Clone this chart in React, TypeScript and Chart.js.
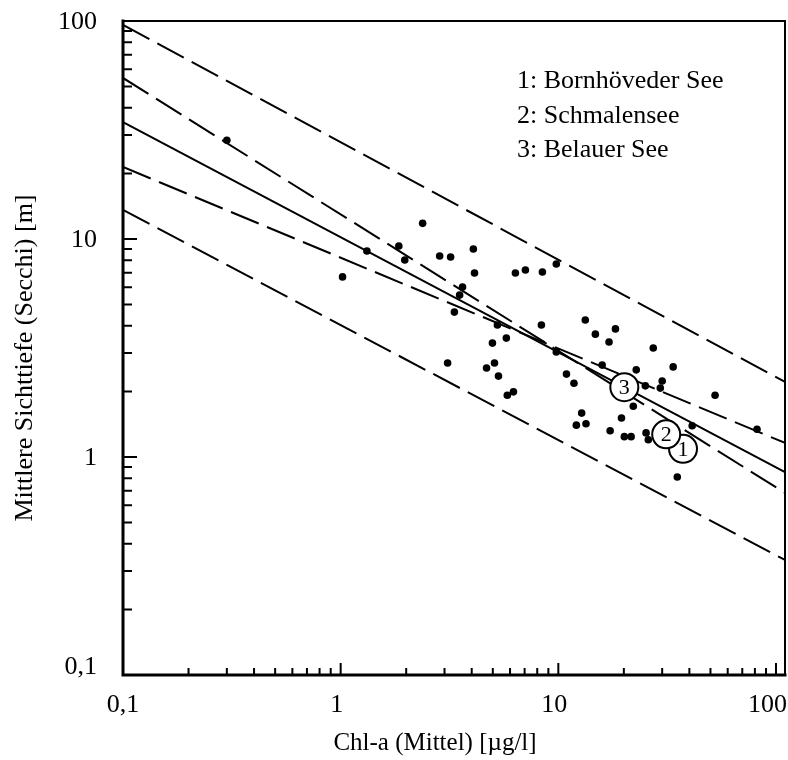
import React, { useEffect, useRef } from 'react';
import { Chart, registerables } from 'chart.js';

Chart.register(...registerables);

const FONT = "'Liberation Serif', 'Times New Roman', serif";

// Measured lakes: Chl-a (Mittel) [µg/l] vs. mittlere Sichttiefe [m]
const chlA = [0.30, 1.32, 1.02, 2.38, 1.85, 1.97, 2.85, 3.20, 4.07, 4.12, 3.63, 3.52, 3.33, 6.35, 7.06, 8.45, 9.79, 5.25, 4.98, 5.77, 8.36, 9.79, 13.3, 14.8, 18.3, 17.1, 27.3, 15.9, 22.8, 33.7, 3.10, 4.68, 5.09, 5.31, 5.83, 6.22, 10.9, 11.8, 25.1, 30.0, 29.4, 52.5, 22.1, 12.8, 12.1, 13.4, 19.5, 17.3, 20.1, 21.6, 25.3, 25.9, 41.2, 81.8, 35.2];
const secchi = [28.4, 8.81, 6.70, 11.8, 9.29, 8.01, 8.36, 8.27, 9.00, 6.98, 6.02, 5.53, 4.62, 6.98, 7.21, 7.06, 7.68, 4.03, 3.33, 3.51, 4.03, 3.03, 4.25, 3.66, 3.87, 3.37, 3.16, 2.64, 2.51, 2.59, 2.70, 2.56, 2.70, 2.35, 1.92, 1.99, 2.40, 2.18, 2.12, 2.23, 2.07, 1.92, 1.71, 1.59, 1.40, 1.42, 1.51, 1.32, 1.24, 1.24, 1.29, 1.20, 1.39, 1.34, 0.81];

// Regression line and bands (endpoints at x = 0.1 and x = 110)
const lineX = [0.1, 110];
const predUpper = [96, 2.21];
const confUpper = [54.8, 0.684];
const regression = [34.4, 0.853];
const confLower = [21.4, 1.16];
const predLower = [13.6, 0.337];

// Highlighted lakes
const lakeNumbers = ['1', '2', '3'];
const lakeChl = [37.4, 31.3, 20.1];
const lakeSecchi = [1.09, 1.27, 2.09];
const legendLines = ['1: Bornhöveder See', '2: Schmalensee', '3: Belauer See'];

// Axes
const majorValues = [0.1, 1, 10, 100];
const majorLabels = ['0,1', '1', '10', '100'];
const xTitle = 'Chl-a (Mittel) [µg/l]';
const yTitle = 'Mittlere Sichttiefe (Secchi) [m]';

function tickKind(v: number): number {
  // 0 = none, 1 = minor, 2 = major
  const e = Math.floor(Math.log10(v) + 1e-9);
  const m = v / Math.pow(10, e);
  if (Math.abs(m - Math.round(m)) > 1e-6) return 0;
  const r = Math.round(m);
  if (r === 1 || r === 10) return 2;
  return 1;
}

const decorPlugin = {
  id: 'decor',
  afterDatasetsDraw(chart: any) {
    const { ctx, chartArea: a, scales } = chart;
    const xs = scales.x;
    const ys = scales.y;
    ctx.save();
    ctx.fillStyle = '#000';
    ctx.strokeStyle = '#000';

    // numbers inside lake circles
    ctx.font = `22px ${FONT}`;
    ctx.textAlign = 'center';
    ctx.textBaseline = 'middle';
    lakeNumbers.forEach((n, i) => {
      ctx.fillText(n, xs.getPixelForValue(lakeChl[i]), ys.getPixelForValue(lakeSecchi[i]) + 1);
    });

    // frame
    ctx.lineCap = 'square';
    ctx.lineWidth = 2;
    ctx.beginPath();
    ctx.moveTo(a.left, a.top);
    ctx.lineTo(a.right, a.top);
    ctx.lineTo(a.right, a.bottom);
    ctx.stroke();
    ctx.lineWidth = 3;
    ctx.beginPath();
    ctx.moveTo(a.left, a.top);
    ctx.lineTo(a.left, a.bottom);
    ctx.lineTo(a.right, a.bottom);
    ctx.stroke();

    // inward ticks
    ctx.lineWidth = 2;
    ctx.lineCap = 'butt';
    ctx.beginPath();
    ys.ticks.forEach((t: any) => {
      const k = tickKind(t.value);
      if (!k) return;
      const py = ys.getPixelForValue(t.value);
      ctx.moveTo(a.left, py);
      ctx.lineTo(a.left + (k === 2 ? 14 : 9), py);
    });
    xs.ticks.forEach((t: any) => {
      const k = tickKind(t.value);
      if (!k) return;
      const px = xs.getPixelForValue(t.value);
      ctx.moveTo(px, a.bottom);
      ctx.lineTo(px, a.bottom - (k === 2 ? 12 : 7));
    });
    ctx.stroke();

    // tick labels
    ctx.font = `26px ${FONT}`;
    ctx.textBaseline = 'middle';
    ctx.textAlign = 'right';
    majorValues.forEach((v, i) => {
      const py = ys.getPixelForValue(v);
      ctx.fillText(majorLabels[i], a.left - 26, i === 0 ? py - 8 : py + 1);
    });
    ctx.textAlign = 'center';
    majorValues.forEach((v, i) => {
      const w = ctx.measureText(majorLabels[i]).width;
      const px = Math.min(xs.getPixelForValue(v) - 4, chart.width - w / 2 - 1);
      ctx.fillText(majorLabels[i], i === 0 ? px + 4 : px, a.bottom + 30);
    });

    // legend text
    ctx.font = `26px ${FONT}`;
    ctx.textAlign = 'left';
    ctx.textBaseline = 'alphabetic';
    legendLines.forEach((s, i) => {
      ctx.fillText(s, a.left + 394, a.top + 67 + i * 34.5);
    });

    // axis titles
    ctx.font = `25px ${FONT}`;
    ctx.textAlign = 'center';
    ctx.textBaseline = 'middle';
    ctx.fillText(xTitle, a.left + 312, a.bottom + 68);
    ctx.save();
    ctx.translate(a.left - 98, a.top + 337);
    ctx.rotate(-Math.PI / 2);
    ctx.font = `26px ${FONT}`;
    ctx.fillText(yTitle, 0, 0);
    ctx.restore();

    ctx.restore();
  },
};

function lineDataset(ys: number[], dashed: boolean) {
  return {
    type: 'line' as const,
    data: lineX.map((x, i) => ({ x, y: ys[i] })),
    borderColor: '#000',
    borderWidth: 2,
    borderDash: dashed ? [30, 9] : [],
    pointRadius: 0,
    showLine: true,
    fill: false,
    order: 3,
  };
}

export default function App() {
  const ref = useRef<HTMLCanvasElement | null>(null);

  useEffect(() => {
    if (!ref.current) return;
    const chart = new Chart(ref.current, {
      type: 'scatter',
      data: {
        datasets: [
          lineDataset(predUpper, true),
          lineDataset(confUpper, true),
          lineDataset(regression, false),
          lineDataset(confLower, true),
          lineDataset(predLower, true),
          {
            type: 'scatter',
            data: chlA.map((x, i) => ({ x, y: secchi[i] })),
            pointRadius: 3.8,
            pointBackgroundColor: '#000',
            pointBorderWidth: 0,
            borderColor: '#000',
            order: 2,
          },
          {
            type: 'scatter',
            data: lakeChl.map((x, i) => ({ x, y: lakeSecchi[i] })),
            pointRadius: 14,
            pointBackgroundColor: '#fff',
            pointBorderColor: '#000',
            pointBorderWidth: 2,
            order: 1,
          },
        ] as any,
      },
      options: {
        responsive: false,
        animation: false,
        devicePixelRatio: 1,
        layout: { autoPadding: false, padding: { top: 21, right: 3, left: 0, bottom: 0 } },
        plugins: { legend: { display: false }, tooltip: { enabled: false } },
        scales: {
          x: {
            type: 'logarithmic',
            position: 'bottom',
            min: 0.1,
            max: 110,
            grid: { display: false, drawTicks: false },
            border: { display: false },
            ticks: { display: false, autoSkip: false },
            afterFit: (s: any) => { s.height = 85; },
          },
          y: {
            type: 'logarithmic',
            position: 'left',
            min: 0.1,
            max: 100,
            grid: { display: false, drawTicks: false },
            border: { display: false },
            ticks: { display: false, autoSkip: false },
            afterFit: (s: any) => { s.width = 123; },
          },
        },
      } as any,
      plugins: [decorPlugin],
    });
    return () => chart.destroy();
  }, []);

  return (
    <div style={{ position: 'absolute', left: 0, top: 0, width: 788, height: 760, background: '#fff' }}>
      <canvas ref={ref} width={788} height={760} style={{ display: 'block' }} />
    </div>
  );
}
